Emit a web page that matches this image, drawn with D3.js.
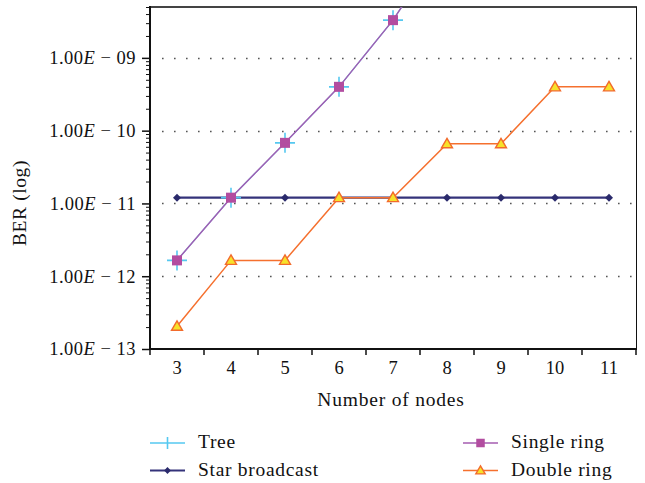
<!DOCTYPE html>
<html>
<head>
<meta charset="utf-8">
<script src="https://cdn.jsdelivr.net/npm/d3@7"></script>
<style>
  body { margin: 0; background: #fff; }
  text { font-family: "Liberation Serif", "DejaVu Serif", serif; fill: #111; }
</style>
</head>
<body>
<div id="chart"></div>
<script>
// datos
const nodos = [3, 4, 5, 6, 7, 8, 9, 10, 11];
const treeVals = [1.65e-12, 1.2e-11, 6.8e-11, 4.0e-10, 3.3e-9, 4.4e-8];
const starVals = [1.2e-11, 1.2e-11, 1.2e-11, 1.2e-11, 1.2e-11, 1.2e-11, 1.2e-11, 1.2e-11, 1.2e-11];
const singleVals = [1.65e-12, 1.2e-11, 6.8e-11, 4.0e-10, 3.3e-9, 4.4e-8];
const doubleVals = [2.05e-13, 1.65e-12, 1.65e-12, 1.2e-11, 1.2e-11, 6.6e-11, 6.6e-11, 4.0e-10, 4.0e-10];
const majorTicks = [1e-13, 1e-12, 1e-11, 1e-10, 1e-9];
const tickExp = ["13", "12", "11", "10", "09"];

const width = 645, height = 483;
const mLeft = 150, mRight = 636, mTop = 7, mBottom = 349;

const svg = d3.select("#chart").append("svg")
    .attr("width", width)
    .attr("height", height);

const x = d3.scaleBand().domain(nodos).range([mLeft, mRight]);
const y = d3.scaleLog().domain([1e-13, 5e-9]).range([mBottom, mTop]);

svg.append("clipPath").attr("id", "clip")
  .append("rect").attr("x", mLeft).attr("y", mTop).attr("width", mRight - mLeft).attr("height", mBottom - mTop);

// lineas de grilla punteadas
svg.append("g").selectAll("line")
  .data(majorTicks.slice(1))
  .enter().append("line")
    .attr("x1", mLeft + 12).attr("x2", mRight)
    .attr("y1", d => Math.round(y(d)) + 0.5).attr("y2", d => Math.round(y(d)) + 0.5)
    .attr("stroke", "#555")
    .attr("stroke-width", 1.6)
    .attr("stroke-dasharray", "1.6,10.4");

// bordes
svg.append("line").attr("x1", mLeft).attr("x2", mRight + 1).attr("y1", mTop).attr("y2", mTop)
  .attr("stroke", "#444").attr("stroke-width", 2);
svg.append("line").attr("x1", mRight + 0.5).attr("x2", mRight + 0.5).attr("y1", mTop).attr("y2", mBottom)
  .attr("stroke", "#111").attr("stroke-width", 1);

// eje Y (log) con marcas menores
const yAxis = d3.axisLeft(y)
  .tickValues(y.ticks(20))
  .tickSize(4)
  .tickFormat("");
const gy = svg.append("g").attr("transform", `translate(${mLeft},0)`).call(yAxis);
gy.select(".domain").remove();
gy.selectAll(".tick line").attr("stroke", "#111");
gy.selectAll(".tick").filter(d => majorTicks.some(m => Math.abs(m - d) / m < 1e-6))
  .select("line").attr("x2", -8).attr("stroke-width", 1.5);
svg.append("line").attr("x1", mLeft).attr("x2", mLeft).attr("y1", mTop - 1).attr("y2", mBottom)
  .attr("stroke", "#111").attr("stroke-width", 2);

const yLabels = svg.append("g").selectAll("text")
  .data(majorTicks)
  .enter().append("text")
    .attr("x", mLeft - 14)
    .attr("y", d => y(d))
    .attr("dy", "0.35em")
    .attr("text-anchor", "end")
    .style("font-size", "18.5px")
    .style("letter-spacing", "0.5px");
yLabels.append("tspan").text("1.00");
yLabels.append("tspan").style("font-style", "italic").text("E");
yLabels.append("tspan").text((d, i) => " \u2212 " + tickExp[i]);

// eje X
const xAxis = d3.axisBottom(x).tickSize(0).tickPadding(12);
const gx = svg.append("g").attr("transform", `translate(0,${mBottom})`).call(xAxis);
gx.select(".domain").remove();
gx.selectAll("text").style("font-size", "18.5px").style("font-family", "Liberation Serif, serif").attr("fill", "#111");
svg.append("g").selectAll("line")
  .data(d3.range(0, nodos.length + 1))
  .enter().append("line")
    .attr("x1", i => mLeft + i * x.bandwidth()).attr("x2", i => mLeft + i * x.bandwidth())
    .attr("y1", mBottom).attr("y2", mBottom + 6)
    .attr("stroke", "#111").attr("stroke-width", 1.5);
svg.append("line").attr("x1", mLeft - 1).attr("x2", mRight + 1).attr("y1", mBottom).attr("y2", mBottom)
  .attr("stroke", "#111").attr("stroke-width", 2);

// titulos de ejes
svg.append("text")
  .attr("x", 391).attr("y", 406)
  .attr("text-anchor", "middle")
  .style("font-size", "19.5px")
  .style("letter-spacing", "0.8px")
  .text("Number of nodes");
svg.append("text")
  .attr("transform", `translate(26,203) rotate(-90)`)
  .attr("text-anchor", "middle")
  .style("font-size", "19.5px")
  .style("letter-spacing", "0.6px")
  .text("BER (log)");

// simbolos
function drawMarker(g, tipo, cx, cy, k = 1) {
  if (tipo === "plus") {
    g.append("path").attr("d", `M${cx - 10},${cy}H${cx + 10}M${cx},${cy - 10}V${cy + 10}`)
      .attr("stroke", "#55c8f0").attr("stroke-width", 1.6).attr("fill", "none");
  } else if (tipo === "diamond") {
    g.append("path").attr("d", `M${cx},${cy - 4 * k}L${cx + 4 * k},${cy}L${cx},${cy + 4 * k}L${cx - 4 * k},${cy}Z`)
      .attr("fill", "#2a2a6c");
  } else if (tipo === "square") {
    g.append("rect").attr("x", cx - 5 * k).attr("y", cy - 5 * k).attr("width", 10 * k).attr("height", 10 * k)
      .attr("fill", "#b24da0");
  } else if (tipo === "triangle") {
    g.append("path").attr("d", `M${cx},${cy - 5.5 * k}L${cx + 5.5 * k},${cy + 4 * k}L${cx - 5.5 * k},${cy + 4 * k}Z`)
      .attr("fill", "#f7e22a").attr("stroke", "#f26b2c").attr("stroke-width", 1.4);
  }
}

const series = [
  { name: "Star broadcast", values: starVals, color: "#34337a", lw: 2.2, marker: "diamond" },
  { name: "Tree", values: treeVals, color: "#55c8f0", lw: 1.3, marker: "plus" },
  { name: "Single ring", values: singleVals, color: "#a55cb0", lw: 1.4, marker: "square" },
  { name: "Double ring", values: doubleVals, color: "#f5702e", lw: 1.5, marker: "triangle" }
];

const line = d3.line()
  .x((d, i) => x(nodos[i]) + x.bandwidth() / 2)
  .y(d => y(d));

const plot = svg.append("g").attr("clip-path", "url(#clip)");
series.forEach(s => {
  plot.append("path")
    .datum(s.values)
    .attr("fill", "none")
    .attr("stroke", s.color)
    .attr("stroke-width", s.lw)
    .attr("d", line);
});
const marks = svg.append("g");
series.forEach(s => {
  s.values.forEach((v, i) => {
    if (v > y.domain()[1]) return;
    drawMarker(marks, s.marker, x(nodos[i]) + x.bandwidth() / 2, y(v));
  });
});

// leyenda
const legendPos = {
  "Tree": [150, 443],
  "Star broadcast": [150, 470.5],
  "Single ring": [463, 443],
  "Double ring": [463, 470.5]
};
const leg = svg.append("g");
["Tree", "Star broadcast", "Single ring", "Double ring"].forEach(name => {
  const s = series.find(d => d.name === name);
  const [lx, ly] = legendPos[name];
  leg.append("line").attr("x1", lx).attr("x2", lx + 35).attr("y1", ly).attr("y2", ly)
    .attr("stroke", s.color).attr("stroke-width", s.lw);
  const gm = leg.append("g");
  if (s.marker === "plus") {
    gm.append("path").attr("d", `M${lx + 17.5},${ly - 6}V${ly + 6}`).attr("stroke", s.color).attr("stroke-width", 1.6);
  } else {
    drawMarker(gm, s.marker, lx + 17.5, ly, 0.85);
  }
  leg.append("text").attr("x", lx + 48).attr("y", ly + 5)
    .style("font-size", "19.5px")
    .style("letter-spacing", "0.7px")
    .text(name);
});
</script>
</body>
</html>
